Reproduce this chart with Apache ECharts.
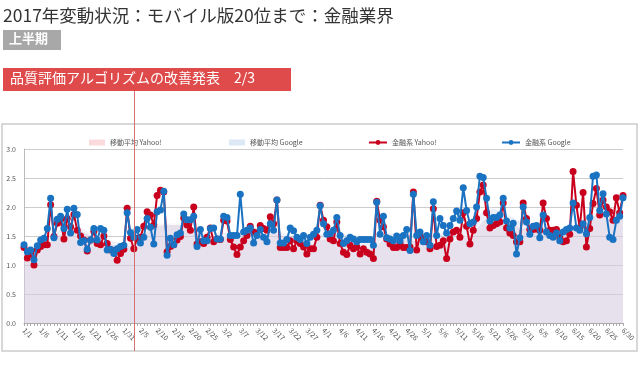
<!DOCTYPE html>
<html><head><meta charset="utf-8">
<script src="https://cdn.jsdelivr.net/npm/echarts@6/dist/echarts.min.js"></script>
<style>html,body{margin:0;padding:0;background:#fff}#c{width:640px;height:378px}</style>
</head><body><div id="c"></div>
<script>
// ---- data ----
const monthLengths = [31, 28, 31, 30, 31, 30];
const categories = [];
for (let m = 0; m < monthLengths.length; m++) for (let d = 1; d <= monthLengths[m]; d++) categories.push((m + 1) + '/' + d);

const yahoo = [1.3,1.12,1.2,1.0,1.26,1.32,1.35,1.35,2.04,1.49,1.72,1.78,1.45,1.8,1.66,1.87,1.6,1.5,1.43,1.24,
1.43,1.58,1.37,1.35,1.5,1.37,1.26,1.25,1.08,1.2,1.27,1.98,1.46,1.28,1.46,1.48,1.67,1.92,1.86,1.69,
2.2,2.29,2.26,1.23,1.32,1.35,1.43,1.49,1.81,1.69,1.6,2.0,1.36,1.4,1.37,1.48,1.64,1.4,1.45,1.44,
1.77,1.76,1.44,1.31,1.18,1.31,1.42,1.51,1.67,1.57,1.55,1.68,1.63,1.6,1.83,1.71,2.12,1.3,1.3,1.3,
1.42,1.28,1.42,1.37,1.31,1.19,1.28,1.28,1.48,2.03,1.77,1.66,1.45,1.42,1.74,1.37,1.22,1.18,1.34,1.28,
1.31,1.19,1.28,1.22,1.19,1.11,2.1,1.77,1.66,1.45,1.36,1.3,1.3,1.37,1.3,1.3,1.31,2.26,1.26,1.51,
1.45,1.4,1.28,1.97,1.32,1.34,1.42,1.11,1.45,1.57,1.6,1.48,1.9,1.67,1.36,1.6,1.8,2.26,2.38,1.9,
1.64,1.68,1.71,1.74,2.07,1.64,1.55,1.51,1.4,1.4,2.07,1.8,1.61,1.61,1.62,1.6,2.07,1.8,1.6,1.6,
1.61,1.48,1.4,1.42,1.53,2.61,2.03,1.63,2.25,1.31,1.63,2.06,2.32,1.86,2.12,2.0,1.92,1.77,2.16,1.9,2.2];

const google = [1.35,1.23,1.26,1.09,1.33,1.43,1.46,1.63,2.15,1.47,1.79,1.84,1.63,1.96,1.55,1.98,1.87,1.39,1.42,1.27,
1.43,1.63,1.43,1.63,1.6,1.26,1.27,1.2,1.28,1.32,1.34,1.9,1.56,1.48,1.61,1.38,1.48,1.8,1.65,1.36,
1.92,1.95,2.27,1.17,1.46,1.35,1.52,1.55,1.88,1.78,1.78,1.84,1.32,1.61,1.42,1.42,1.63,1.64,1.45,1.45,
1.84,1.82,1.51,1.51,1.51,2.22,1.57,1.6,1.64,1.38,1.51,1.61,1.48,1.4,1.71,1.6,2.12,1.38,1.38,1.44,
1.64,1.59,1.48,1.44,1.51,1.37,1.48,1.53,1.6,2.02,1.71,1.53,1.54,1.6,1.82,1.51,1.37,1.42,1.48,1.45,
1.4,1.44,1.44,1.44,1.44,1.34,2.08,1.53,1.84,1.47,1.45,1.42,1.5,1.42,1.51,1.61,1.25,2.22,1.51,1.57,
1.4,1.51,1.34,2.09,1.51,1.8,1.68,1.55,1.68,1.8,1.93,1.77,2.33,1.94,1.71,1.74,2.0,2.53,2.51,2.15,
1.76,1.82,1.82,1.86,2.15,1.76,1.64,1.72,1.19,1.47,2.0,1.74,1.53,1.67,1.68,1.47,1.86,1.57,1.51,1.48,
1.55,1.42,1.57,1.61,1.64,2.07,1.64,1.6,1.71,1.54,1.82,2.53,2.55,1.94,2.23,1.88,1.48,1.44,1.77,1.84,2.16];

// moving-average area outline, read every 5 days
const maDays   = [0,5,10,15,20,25,30,35,40,45,50,55,60,65,70,75,80,85,90,95,100,105,110,115,120,125,130,135,140,145,150,155,160,165,170,175,180];
const maYahoo  = [1.30,1.30,1.50,1.62,1.52,1.40,1.33,1.48,1.72,1.72,1.62,1.52,1.50,1.45,1.50,1.55,1.46,1.36,1.45,1.42,1.30,1.33,1.50,1.45,1.40,1.38,1.42,1.58,1.82,1.80,1.65,1.70,1.62,1.68,1.82,1.95,2.00];
const maGoogle = [1.33,1.36,1.58,1.68,1.55,1.45,1.38,1.50,1.68,1.70,1.66,1.56,1.56,1.58,1.54,1.58,1.52,1.48,1.55,1.55,1.45,1.47,1.55,1.52,1.50,1.55,1.62,1.78,1.98,1.88,1.74,1.68,1.60,1.66,1.85,1.95,1.95];

const yTicks = [0, 0.5, 1.0, 1.5, 2.0, 2.5, 3.0];
const markerDay = '2/3';

const titleText = '2017年変動状況：モバイル版20位まで：金融業界';
const badgeText = '上半期';
const eventText = '品質評価アルゴリズムの改善発表　2/3';
const names = ['移動平均 Yahoo!', '移動平均 Google', '金融系 Yahoo!', '金融系 Google'];

// ---- chart ----
const FONT = '"Noto Sans CJK JP", "Noto Sans", sans-serif';
const chart = echarts.init(document.getElementById('c'), null, {renderer: 'canvas'});
const pairs = (vals) => maDays.map((d, k) => [d, vals[k]]);

const legendBase = {top: 134, itemWidth: 16, itemHeight: 6, textStyle: {fontSize: 7, color: '#555', fontFamily: FONT}};
const option = {
  animation: false,
  backgroundColor: '#fff',
  textStyle: {fontFamily: FONT},
  grid: {left: 24, right: 17, top: 149, bottom: 55, containLabel: false},
  legend: [
    Object.assign({left: 84, data: [{name: names[0], icon: 'rect'}]}, legendBase),
    Object.assign({left: 224, data: [{name: names[1], icon: 'rect'}]}, legendBase),
    Object.assign({left: 363, data: [names[2]]}, legendBase, {itemWidth: 18}),
    Object.assign({left: 496, data: [names[3]]}, legendBase, {itemWidth: 18})
  ],
  xAxis: {
    type: 'category', data: categories, boundaryGap: false,
    axisLine: {lineStyle: {color: '#aaa'}},
    axisTick: {show: true, interval: 0, length: 3, lineStyle: {color: '#aaa'}},
    axisLabel: {interval: 4, rotate: -45, fontSize: 7, color: '#555', margin: 6, fontFamily: FONT},
    splitLine: {show: false}
  },
  yAxis: {
    type: 'value', min: yTicks[0], max: yTicks[yTicks.length - 1], interval: 0.5,
    axisLine: {show: true, lineStyle: {color: '#bbb'}},
    axisTick: {show: false},
    axisLabel: {fontSize: 7, color: '#555', margin: 8, formatter: v => v.toFixed(1), fontFamily: FONT},
    splitLine: {lineStyle: {color: '#ccc', width: 1}}
  },
  series: [
    {name: names[0], type: 'line', data: pairs(maYahoo), smooth: true, symbol: 'none',
     itemStyle: {color: '#fadadd'}, lineStyle: {width: 1, color: 'rgba(255,255,255,0.8)'},
     areaStyle: {color: 'rgba(238,200,212,0.55)'}, z: 1},
    {name: names[1], type: 'line', data: pairs(maGoogle), smooth: true, symbol: 'none',
     itemStyle: {color: '#dce8f5'}, lineStyle: {width: 1, color: 'rgba(255,255,255,0.8)'},
     areaStyle: {color: 'rgba(200,210,236,0.5)'}, z: 1},
    {name: names[2], type: 'line', data: yahoo, symbol: 'circle', symbolSize: 7, showAllSymbol: true,
     itemStyle: {color: '#c8001e'}, lineStyle: {width: 2, color: '#c8001e'}, z: 3},
    {name: names[3], type: 'line', data: google, symbol: 'circle', symbolSize: 7, showAllSymbol: true,
     itemStyle: {color: '#1a72c2'}, lineStyle: {width: 2, color: '#1a72c2'}, z: 4}
  ]
};
chart.setOption(option);

const mx = chart.convertToPixel({xAxisIndex: 0}, markerDay);
chart.setOption({
  graphic: [
    {type: 'rect', shape: {x: 2, y: 124, width: 635, height: 227}, style: {fill: 'none', stroke: '#ccc', lineWidth: 1.5}, z: 0, silent: true},
    {type: 'line', shape: {x1: Math.round(mx) + 0.5, y1: 90, x2: Math.round(mx) + 0.5, y2: 351}, style: {stroke: '#d47070', lineWidth: 1}, z: 100},
    {type: 'text', left: 3, top: 7, style: {text: titleText, font: '17.5px ' + FONT, fill: '#333'}},
    {type: 'rect', shape: {x: 3, y: 30, width: 58, height: 20}, style: {fill: '#a8a8a8'}},
    {type: 'text', left: 9, top: 32, style: {text: badgeText, font: 'bold 13px ' + FONT, fill: '#fff'}},
    {type: 'rect', shape: {x: 3, y: 68, width: 288, height: 23}, style: {fill: '#df4a4a'}, z: 101},
    {type: 'text', left: 10, top: 71, z: 102, style: {text: eventText, font: '14px ' + FONT, fill: '#fff'}}
  ]
});
</script></body></html>
